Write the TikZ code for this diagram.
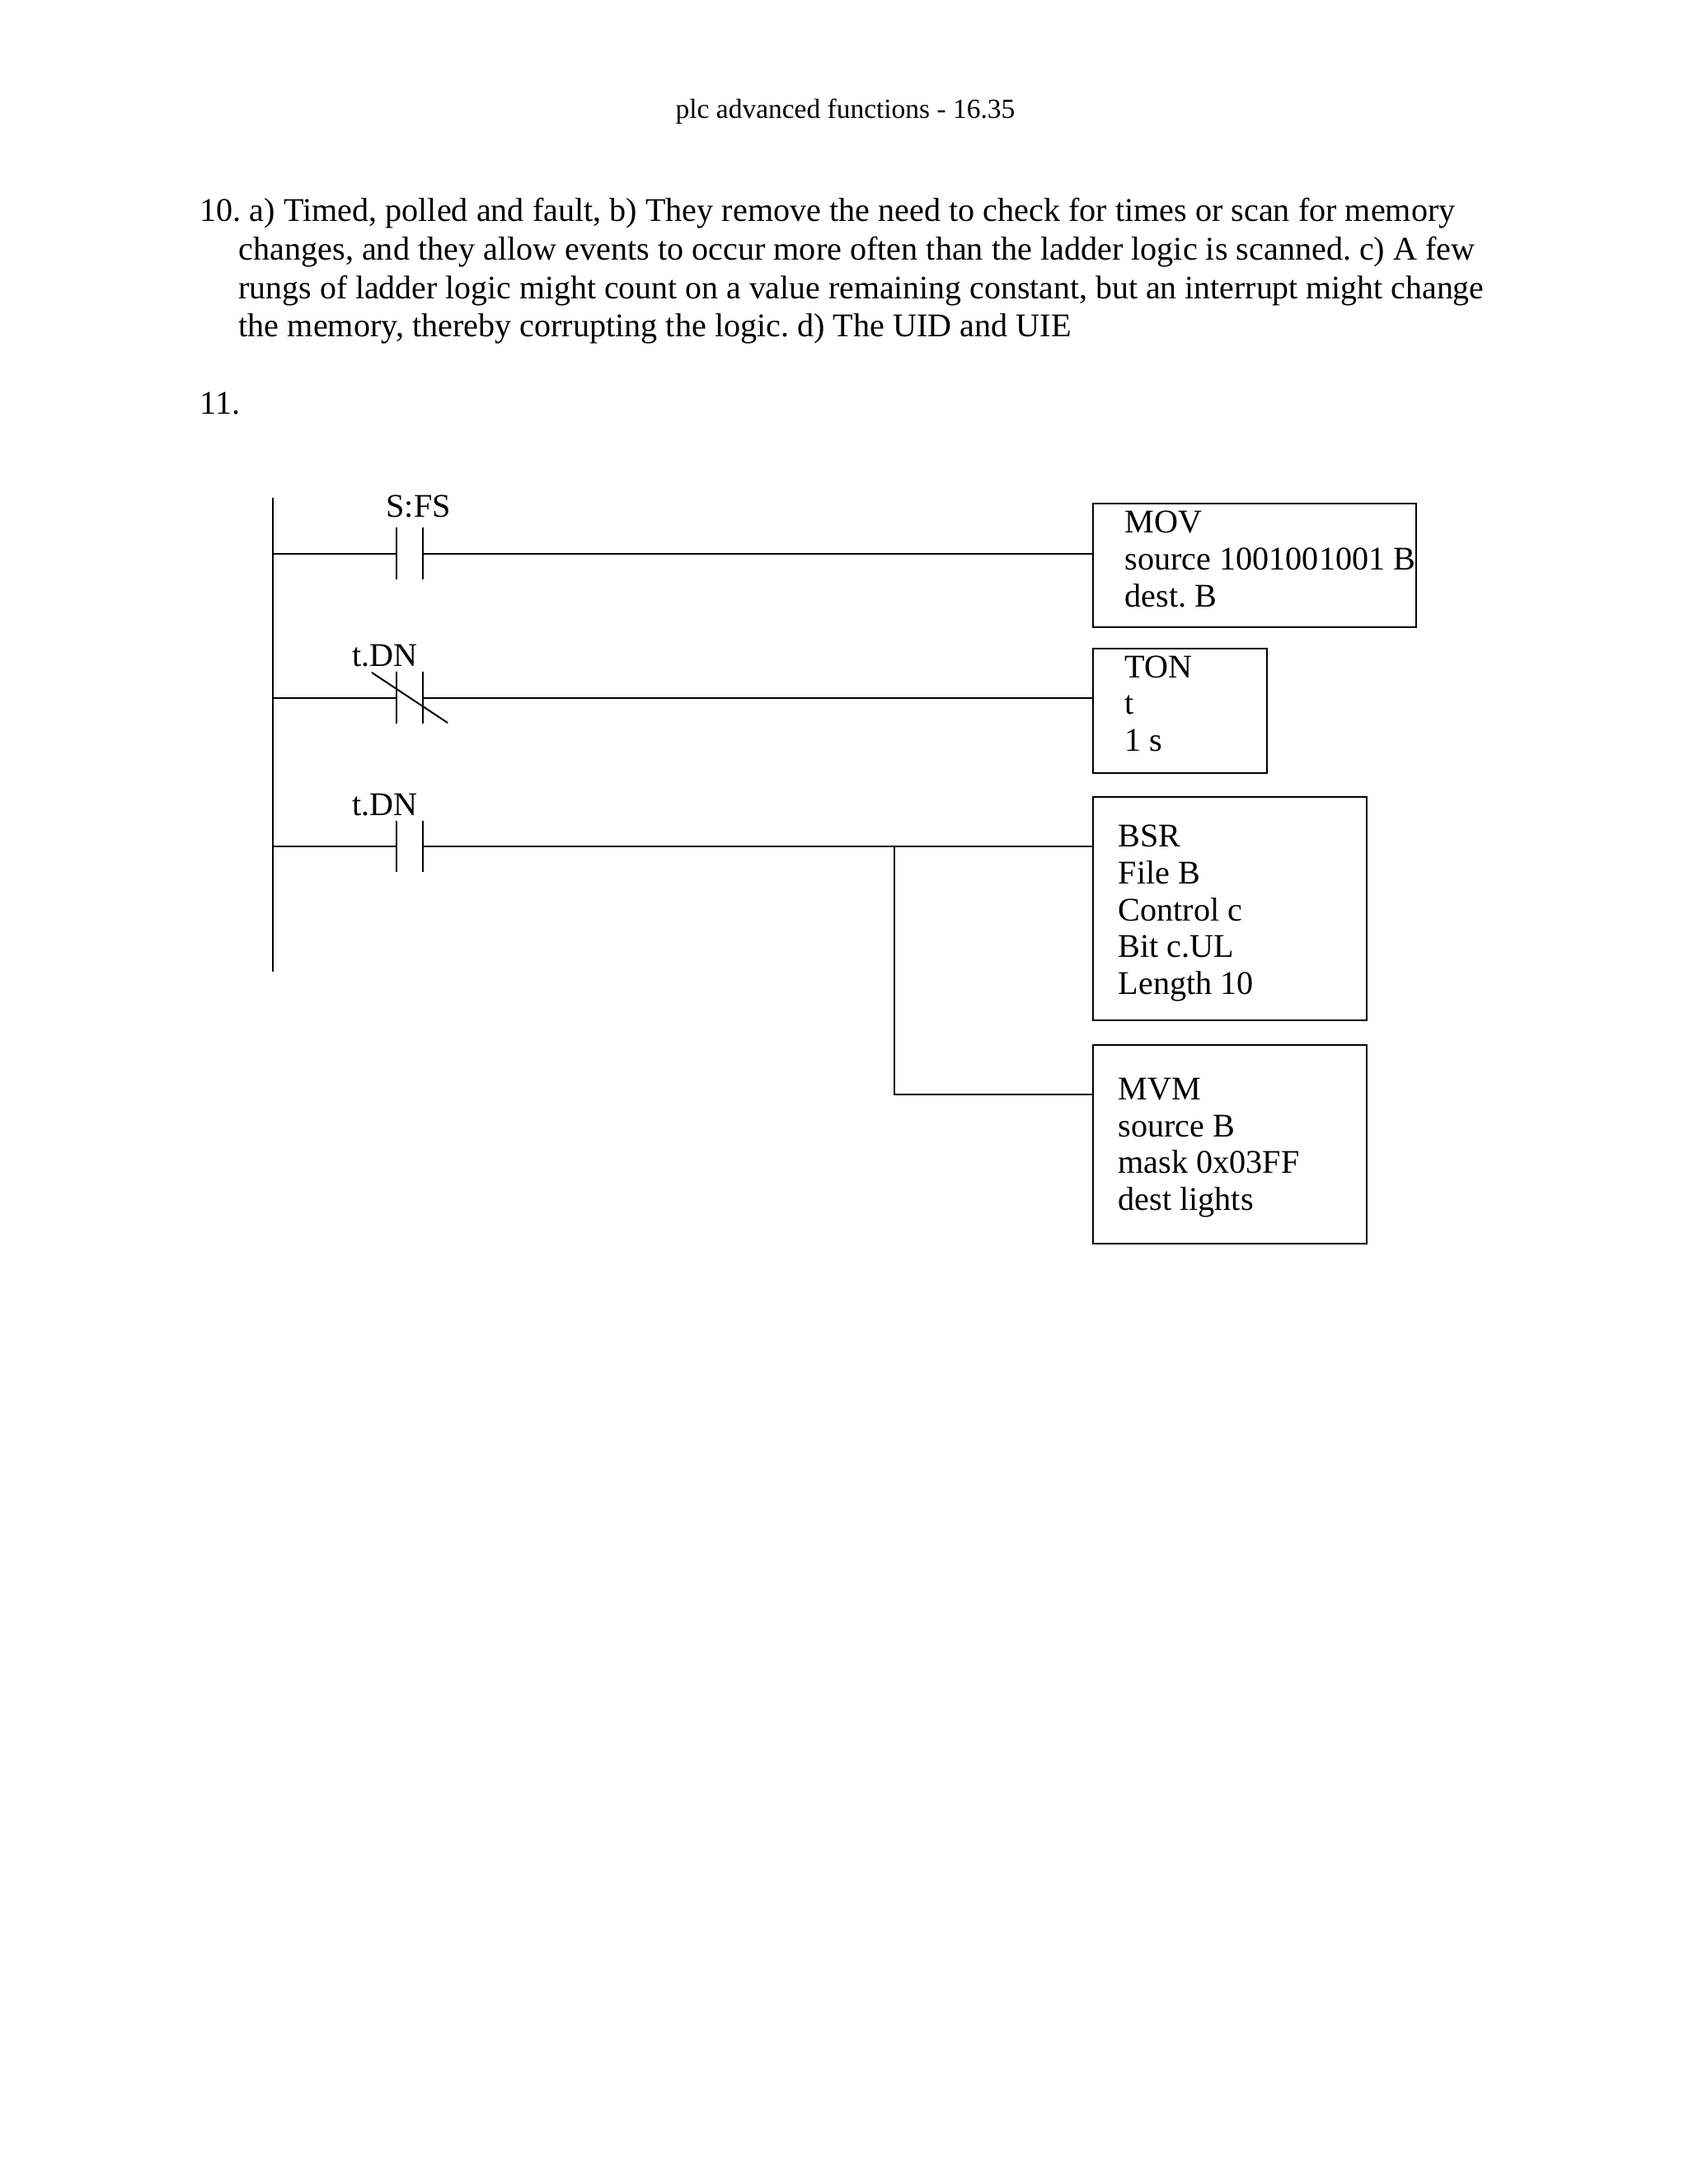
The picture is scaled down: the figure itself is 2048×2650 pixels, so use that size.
\documentclass[tikz,border=0pt]{standalone}
\usepackage{fontspec}
\setmainfont{Liberation Serif}
\frenchspacing
\tikzset{
  wire/.style={line width=0.6bp, black},
  bodytext/.style={anchor=base west, inner sep=0pt, font=\fontsize{12bp}{14bp}\selectfont},
  boxtext/.style={anchor=base west, inner sep=0pt, align=left, font=\fontsize{12bp}{13.3bp}\selectfont},
  contact/.style={inner sep=0pt, minimum width=30\pxu, minimum height=61\pxu},
  instr/.style={draw, wire, inner sep=0pt, anchor=north west},
}
\newdimen\pxu
\pxu=0.29883bp
\begin{document}
\begin{tikzpicture}[x=0.29883bp, y=-0.29883bp]
  \useasboundingbox (0,0) rectangle (2048,2650);

  \node[anchor=base west, inner sep=0pt, font=\fontsize{10bp}{12bp}\selectfont] (hdr) at (819,143) {plc advanced functions - 16.35};

  \node[bodytext] (ans10a) at (242,268) {10. a) Timed, polled and fault, b) They remove the need to check for times or scan for memory};
  \node[bodytext] (ans10b) at (289,315) {changes, and they allow events to occur more often than the ladder logic is scanned. c) A few};
  \node[bodytext, font=\fontsize{11.9bp}{14bp}\selectfont] (ans10c) at (289,362) {rungs of ladder logic might count on a value remaining constant, but an interrupt might change};
  \node[bodytext] (ans10d) at (289,408) {the memory, thereby corrupting the logic. d) The UID and UIE};
  \node[bodytext] (ans11) at (242,502) {11.};

  % power rail
  \coordinate (railtop) at (331,604);
  \coordinate (railbot) at (331,1179);
  \draw[wire] (railtop) -- (railbot);

  % contacts
  \node[contact] (cfs) at (497,671.5) {};
  \node[contact] (ctna) at (497,846.5) {};
  \node[contact] (ctnb) at (497,1027) {};
  \foreach \c in {cfs,ctna,ctnb} {
    \draw[wire] (\c.north west) -- (\c.south west);
    \draw[wire] (\c.north east) -- (\c.south east);
  }
  \draw[wire] (451,816) -- (543,877);

  \node[bodytext] (lfs) at (468,627) {S:FS};
  \node[bodytext] (ltna) at (427,808) {t.DN};
  \node[bodytext] (ltnb) at (427,989) {t.DN};

  % output boxes
  \node[instr, minimum width=392\pxu, minimum height=150\pxu] (mov) at (1325,610) {};
  \node[instr, minimum width=211\pxu, minimum height=151\pxu] (ton) at (1325,785.5) {};
  \node[instr, minimum width=332\pxu, minimum height=271\pxu] (bsr) at (1325,966) {};
  \node[instr, minimum width=332\pxu, minimum height=241\pxu] (mvm) at (1325,1267) {};

  \node[boxtext] (tmov) at (1364,736) {MOV\\source 1001001001 B\\dest. B};
  \node[boxtext] (tton) at (1364,911) {TON\\t\\1 s};
  \node[boxtext] (tbsr) at (1356,1206) {BSR\\File B\\Control c\\Bit c.UL\\Length 10};
  \node[boxtext] (tmvm) at (1356,1468) {MVM\\source B\\mask 0x03FF\\dest lights};

  % rungs
  \foreach \c/\b in {cfs/mov,ctna/ton,ctnb/bsr} {
    \draw[wire] (\c.west -| railtop) -- (\c.west);
    \draw[wire] (\c.east) -- (\c.east -| \b.west);
  }
  \coordinate (branch) at (1085,1027);
  \coordinate (branchbot) at (1085,1328);
  \draw[wire] (branch) -- (branchbot) -- (branchbot -| mvm.west);
\end{tikzpicture}
\end{document}
